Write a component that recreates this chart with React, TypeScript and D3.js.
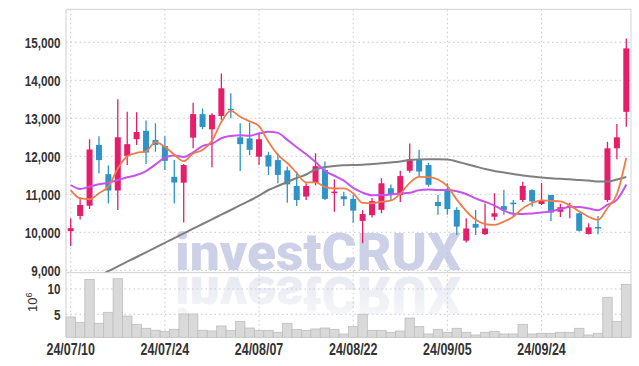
import React from "react";
import * as d3 from "d3";

const dates = [
  "24/07/10","24/07/11","24/07/12","24/07/15","24/07/16","24/07/17","24/07/18","24/07/19","24/07/22","24/07/23",
  "24/07/24","24/07/25","24/07/26","24/07/29","24/07/30","24/07/31","24/08/01","24/08/02","24/08/05","24/08/06",
  "24/08/07","24/08/08","24/08/09","24/08/12","24/08/13","24/08/14","24/08/16","24/08/19","24/08/20","24/08/21",
  "24/08/22","24/08/23","24/08/26","24/08/27","24/08/28","24/08/29","24/08/30","24/09/02","24/09/03","24/09/04",
  "24/09/05","24/09/06","24/09/09","24/09/10","24/09/11","24/09/12","24/09/13","24/09/19","24/09/20","24/09/23",
  "24/09/24","24/09/25","24/09/26","24/09/27","24/09/30","24/10/02","24/10/04","24/10/07","24/10/08","24/10/10",
];

const opens = [
  10030,10430,10700,12300,11530,11100,12010,12450,12670,12430,
  12270,11460,11305,12490,13110,12710,13060,13250,12500,12470,
  11990,12030,11900,11630,11220,10940,11300,11640,11060,10950,
  10880,10300,10450,10590,11160,10980,11620,11920,11770,10800,
  11110,10590,9780,10220,9950,10410,10690,10780,10850,11110,
  10745,10980,10540,10680,10500,9955,10140,10850,12210,13170,
];
const highs = [
  10370,10920,12450,12530,11760,13500,13170,13160,12940,12870,
  12530,11900,11800,13410,13260,13130,14180,13660,12870,12880,
  12620,12120,12080,11730,11600,11290,12080,11860,11390,11070,
  10980,10580,10900,11420,11260,11620,12340,12170,11830,10980,
  11290,10660,10370,10590,10760,11030,11110,10850,11330,11130,
  11300,10990,10750,10780,10520,10240,10430,12380,12850,15100,
];
const lows = [
  9640,10340,10610,11550,10760,10590,11770,12300,11800,12120,
  11640,10760,10260,12210,12710,11710,12960,13000,11610,12030,
  11770,11510,11290,10780,10690,10850,11240,10850,10540,10690,
  10250,9710,10390,10500,10850,10800,11570,11460,11200,10460,
  10460,9930,9730,9930,9930,10320,10460,10410,10800,10670,
  10720,10300,10400,10370,10020,9940,9950,10800,11920,12780,
];
const closes = [
  10110,10720,12180,11900,11100,12500,12320,12640,12100,12300,
  11880,11310,11770,13110,12770,13090,13790,13230,12320,12170,
  12450,11730,11510,11260,10850,11220,11740,10880,11070,10870,
  10570,10480,10820,11290,11000,11480,11920,11600,11250,10690,
  10610,10150,10100,10120,10100,10500,10590,10740,11220,10810,
  10850,10520,10660,10700,10040,10130,10120,12210,12500,14840,
];
// volume in millions of shares
const volumes = [
  4.47,3.42,11.9,3.22,5.39,12.04,4.66,3.02,2.23,1.84,
  1.64,2.04,5.06,5.06,1.84,1.7,2.69,1.83,3.6,2.29,
  1.83,1.83,1.44,3.22,2.03,1.83,2.1,2.29,2.03,1.1,
  2.56,5.0,1.83,1.83,1.44,1.7,4.27,2.56,1.11,2.03,
  1.44,2.23,1.44,0.91,1.44,1.64,1.11,1.11,3.02,1.11,
  1.24,1.24,1.44,1.44,2.23,0.91,1.24,8.36,3.6,10.93,
];
const ma5 = [
  11110,10890,10870,11030,11202,11680,12000,12092,12132,12372,
  12248,12046,11872,12074,12168,12410,12906,13198,13040,12920,
  12792,12380,12036,11824,11560,11314,11316,11190,11152,11156,
  11026,10774,10762,10806,10832,11014,11302,11458,11450,11388,
  11214,10860,10560,10334,10216,10194,10282,10410,10630,10772,
  10842,10828,10812,10708,10554,10410,10330,10640,11000,11960,
];
const ma10 = [
  11245,11140,11200,11263,11305,11376,11447,11508,11613,11787,
  11964,12023,11982,12103,12270,12329,12476,12535,12557,12544,
  12601,12643,12617,12432,12240,12053,11848,11613,11488,11358,
  11170,11045,10976,10979,10994,11020,11038,11110,11128,11110,
  11114,11081,11009,10892,10802,10704,10571,10485,10482,10494,
  10518,10555,10611,10669,10663,10626,10579,10726,10854,11257,
];
const ma60 = [
  8480,8605,8732,8853,8976,9103,9226,9350,9474,9597,
  9724,9845,9971,10095,10218,10342,10466,10587,10713,10834,
  10963,11113,11218,11324,11429,11521,11653,11718,11745,11763,
  11771,11776,11797,11816,11837,11863,11903,11916,11921,11921,
  11916,11863,11797,11732,11666,11613,11574,11534,11495,11468,
  11442,11421,11408,11395,11376,11363,11337,11337,11389,11455,
];
const priceTicks = [9000, 10000, 11000, 12000, 13000, 14000, 15000];
const volumeTicks = [5, 10];
const labelDates = ["24/07/10", "24/07/24", "24/08/07", "24/08/22", "24/09/05", "24/09/24"];

const W = 639, H = 366;
const LEFT = 66, RIGHT = 631, TOP = 9.3, PB = 272.7, VB = 337.3;
const UP = "#e61e6a", DOWN = "#2e93c6";
const GRID = "#c3c7de";
const LABEL_FONT = "'Liberation Sans', Arial, sans-serif";
const NARROW = 0.78;

export default function App() {
  const x = d3.scaleBand<string>().domain(dates).range([LEFT, RIGHT]).padding(0);
  const bw = x.bandwidth();
  const cx = (i: number) => (x(dates[i]) as number) + bw / 2;
  const y = d3.scaleLinear().domain([9000, 15000]).range([270.3, 42.3]);
  const yv = d3.scaleLinear().domain([0, 10]).range([339.6, 289]);
  const fmt = d3.format(",");

  const line = (arr: number[]) =>
    d3.line<number>().x((_, i) => cx(i)).y((v) => y(v)).curve(d3.curveMonotoneX)(arr) || "";

  const candleW = 6;

  return (
    <svg width={W} height={H} style={{ position: "absolute", left: 0, top: 0, background: "#fff" }}>
      <defs>
        <clipPath id="pclip"><rect x={LEFT} y={TOP} width={RIGHT - LEFT} height={PB - TOP} /></clipPath>
        <linearGradient id="refl" x1="0" y1="0" x2="0" y2="1">
          <stop offset="0" stopColor="#d6d8e8" stopOpacity="0.2" />
          <stop offset="1" stopColor="#d6d8e8" stopOpacity="0.9" />
        </linearGradient>
      </defs>
      <rect x={0} y={0} width={W} height={H} fill="#fff" />

      {/* watermark */}
      <text x={175} y={270} fontFamily="Roboto, 'DejaVu Sans', sans-serif" fontWeight={900} fontSize={52}
        textLength={286} lengthAdjust="spacingAndGlyphs" fill="#c5cae4" opacity={0.85}>investCRUX</text>
      <g transform={`translate(0, ${2 * PB + 2}) scale(1,-1)`}>
        <text x={175} y={270} fontFamily="Roboto, 'DejaVu Sans', sans-serif" fontWeight={900} fontSize={52}
          textLength={286} lengthAdjust="spacingAndGlyphs" fill="url(#refl)" opacity={0.7}>investCRUX</text>
      </g>

      {/* grid */}
      {priceTicks.map((t) => (
        <line key={"pg" + t} x1={LEFT} x2={RIGHT} y1={y(t)} y2={y(t)} stroke={GRID} strokeDasharray="1.5,3" />
      ))}
      {volumeTicks.map((t) => (
        <line key={"vg" + t} x1={LEFT} x2={RIGHT} y1={yv(t)} y2={yv(t)} stroke={GRID} strokeDasharray="1.5,3" />
      ))}
      {labelDates.map((d) => (
        <line key={"xg" + d} x1={cx(dates.indexOf(d))} x2={cx(dates.indexOf(d))} y1={TOP} y2={VB}
          stroke={GRID} strokeDasharray="1.5,3" />
      ))}

      {/* volume bars */}
      {volumes.map((v, i) => (
        <rect key={"v" + i} x={x(dates[i]) as number} y={yv(v)} width={bw} height={VB - yv(v)}
          fill="#d9d9d9" stroke="#bdbdbd" strokeWidth={0.8} />
      ))}

      {/* candles */}
      <g clipPath="url(#pclip)">
        {dates.map((d, i) => {
          const o = opens[i], c = closes[i];
          const col = c >= o ? UP : DOWN;
          const yt = y(Math.max(o, c)), yb = y(Math.min(o, c));
          return (
            <g key={"c" + i}>
              <line x1={cx(i)} x2={cx(i)} y1={y(highs[i])} y2={y(lows[i])} stroke={col} strokeWidth={1.3} />
              <rect x={cx(i) - candleW / 2} y={yt} width={candleW} height={Math.max(1.5, yb - yt)} fill={col} />
            </g>
          );
        })}
        <path d={line(ma60)} fill="none" stroke="#7f7f7f" strokeWidth={2} />
        <path d={line(ma10)} fill="none" stroke="#c653ee" strokeWidth={2} />
        <path d={line(ma5)} fill="none" stroke="#ee7d4a" strokeWidth={1.8} />
      </g>

      {/* frame */}
      <line x1={LEFT} x2={RIGHT} y1={TOP} y2={TOP} stroke="#d3d3d3" />
      <line x1={LEFT} x2={LEFT} y1={TOP} y2={VB} stroke="#cfcfcf" />
      <line x1={RIGHT} x2={RIGHT} y1={TOP} y2={VB} stroke="#d3d3d3" />
      <line x1={LEFT} x2={RIGHT} y1={PB} y2={PB} stroke="#cfcfcf" />

      {/* axis labels */}
      {priceTicks.map((t) => (
        <text key={"pl" + t} transform={`translate(60.5, ${y(t)}) scale(${NARROW},1)`} dy="0.36em"
          textAnchor="end" fontFamily={LABEL_FONT} fontWeight="bold" fontSize={15} fill="#333">{fmt(t)}</text>
      ))}
      {volumeTicks.map((t) => (
        <text key={"vl" + t} transform={`translate(60.5, ${yv(t)}) scale(${NARROW},1)`} dy="0.36em"
          textAnchor="end" fontFamily={LABEL_FONT} fontWeight="bold" fontSize={15} fill="#333">{t}</text>
      ))}
      <text transform="translate(37,312) rotate(-90)" fontFamily={LABEL_FONT} fontSize={13} fill="#333">
        10<tspan dy={-5} fontSize={9}>6</tspan>
      </text>
      {labelDates.map((d) => (
        <text key={"xl" + d} transform={`translate(${cx(dates.indexOf(d))}, 354.5) scale(${NARROW},1)`}
          textAnchor="middle" fontFamily={LABEL_FONT} fontWeight="bold" fontSize={16} fill="#333">{d}</text>
      ))}
    </svg>
  );
}
